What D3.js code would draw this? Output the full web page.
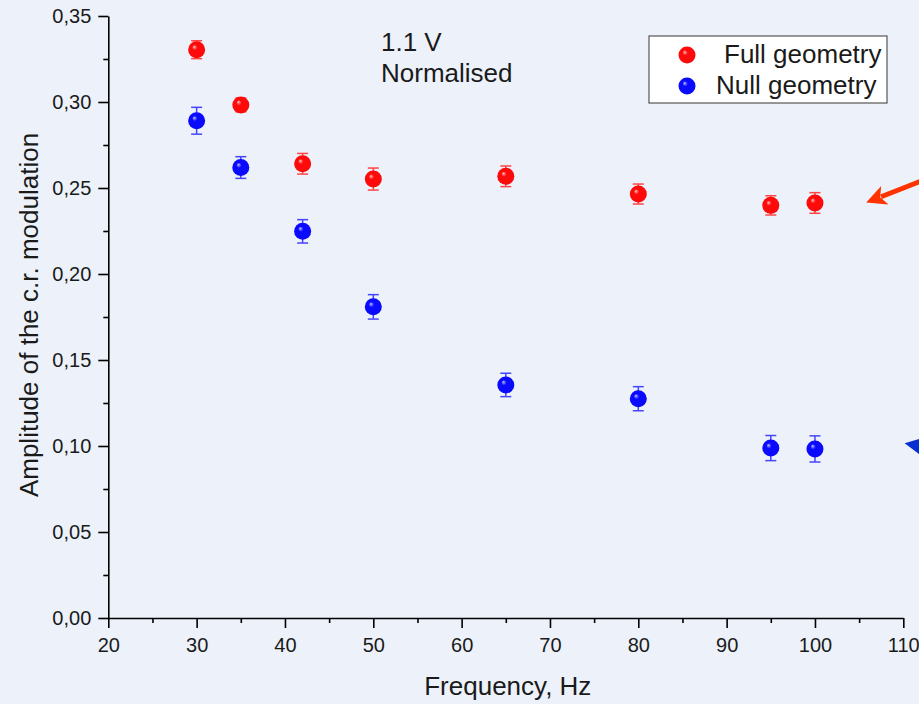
<!DOCTYPE html>
<html>
<head>
<meta charset="utf-8">
<script src="https://d3js.org/d3.v7.min.js"></script>
<style>
    body { margin: 0; background: #edf2fa; }
    svg { display: block; }
    text { font-family: "Liberation Sans", Arial, sans-serif; fill: #1a1a1a; }
    .axis path, .axis line { stroke: #000; stroke-width: 1.6px; }
    .axis text { font-size: 20px; fill: #1a1a1a; }
</style>
</head>
<body>
<svg id="chart" width="919" height="704"></svg>
<script>
    // data
    const freqs = [30, 35, 42, 50, 65, 80, 95, 100];
    const fullAmp = [0.3304, 0.2983, 0.2641, 0.2552, 0.2568, 0.2465, 0.2399, 0.2413];
    const fullErr = [0.0052, 0.0040, 0.0060, 0.0064, 0.0060, 0.0058, 0.0056, 0.0060];
    const nullAmp = [0.2891, 0.2619, 0.2248, 0.1809, 0.1355, 0.1275, 0.0988, 0.0983];
    const nullErr = [0.0078, 0.0063, 0.0068, 0.0071, 0.0068, 0.0070, 0.0073, 0.0076];

    const xTicks = [20, 30, 40, 50, 60, 70, 80, 90, 100, 110];
    const xMinor = [25, 35, 45, 55, 65, 75, 85, 95, 105];
    const yTicks = [0, 0.05, 0.10, 0.15, 0.20, 0.25, 0.30, 0.35];
    const yMinor = [0.025, 0.075, 0.125, 0.175, 0.225, 0.275, 0.325];

    const seriesNames = ['Full geometry', 'Null geometry'];
    const annotLines = ['1.1 V', 'Normalised'];
    // annotation arrows in data units: [from, to]
    const arrows = [
        { from: [112.5, 0.255], to: [105.8, 0.2415], color: '#ff3300' },
        { from: [113.5, 0.0985], to: [110.15, 0.1016], color: '#0a2fd0' }
    ];

    const svg = d3.select('#chart');
    const x = d3.scaleLinear().domain([20, 110]).range([108.3, 903.3]);
    const y = d3.scaleLinear().domain([0, 0.35]).range([618, 16]);

    const locale = d3.formatLocale({ decimal: ',', thousands: '.', grouping: [3], currency: ['', ''] });
    const yFmt = locale.format('.2f');

    // gradients for the shiny balls
    const defs = svg.append('defs');
    function ballGradient(id, light, mid, dark) {
        const g = defs.append('radialGradient').attr('id', id)
            .attr('cx', '50%').attr('cy', '50%').attr('r', '55%')
            .attr('fx', '35%').attr('fy', '32%');
        g.append('stop').attr('offset', '0%').attr('stop-color', light);
        g.append('stop').attr('offset', '28%').attr('stop-color', mid);
        g.append('stop').attr('offset', '85%').attr('stop-color', mid);
        g.append('stop').attr('offset', '100%').attr('stop-color', dark);
    }
    ballGradient('ballRed', '#ffc4c4', '#ff0a0a', '#d00000');
    ballGradient('ballBlue', '#c4c4ff', '#0a0aff', '#0000c0');

    // axes
    svg.append('g').attr('class', 'axis')
        .attr('transform', `translate(0,${y(0)})`)
        .call(d3.axisBottom(x).tickValues(xTicks).tickSize(10).tickPadding(5).tickSizeOuter(0))
        .call(g => g.selectAll('text').attr('dy', '0.95em'));
    svg.append('g').attr('class', 'axis')
        .attr('transform', `translate(0,${y(0)})`)
        .call(d3.axisBottom(x).tickValues(xMinor).tickSize(5).tickFormat('').tickSizeOuter(0))
        .call(g => g.select('.domain').remove());

    svg.append('g').attr('class', 'axis')
        .attr('transform', `translate(${x(20)},0)`)
        .call(d3.axisLeft(y).tickValues(yTicks).tickFormat(yFmt).tickSize(10).tickPadding(7).tickSizeOuter(0));
    svg.append('g').attr('class', 'axis')
        .attr('transform', `translate(${x(20)},0)`)
        .call(d3.axisLeft(y).tickValues(yMinor).tickSize(5).tickFormat('').tickSizeOuter(0))
        .call(g => g.select('.domain').remove());

    // axis titles
    svg.append('text')
        .attr('x', (x(20) + x(110)) / 2 + 2).attr('y', 695)
        .attr('text-anchor', 'middle').style('font-size', '26px')
        .text('Frequency, Hz');
    svg.append('text')
        .attr('transform', `translate(38,${(y(0) + y(0.35)) / 2 - 2}) rotate(-90)`)
        .attr('text-anchor', 'middle').style('font-size', '26px')
        .text('Amplitude of the c.r. modulation');

    // series
    const series = [
        { amp: fullAmp, err: fullErr, fill: 'url(#ballRed)', bar: '#ff4545' },
        { amp: nullAmp, err: nullErr, fill: 'url(#ballBlue)', bar: '#4545ff' }
    ];
    const capW = 5.5, r = 8.5;
    series.forEach(s => {
        const pts = freqs.map((f, i) => ({ f, v: s.amp[i], e: s.err[i] }));
        const g = svg.append('g');
        const eb = g.selectAll('g.eb').data(pts).join('g').attr('class', 'eb')
            .attr('stroke', s.bar).attr('stroke-width', 1.5);
        eb.append('line')
            .attr('x1', d => x(d.f)).attr('x2', d => x(d.f))
            .attr('y1', d => y(d.v - d.e)).attr('y2', d => y(d.v + d.e));
        eb.append('line')
            .attr('x1', d => x(d.f) - capW).attr('x2', d => x(d.f) + capW)
            .attr('y1', d => y(d.v + d.e)).attr('y2', d => y(d.v + d.e));
        eb.append('line')
            .attr('x1', d => x(d.f) - capW).attr('x2', d => x(d.f) + capW)
            .attr('y1', d => y(d.v - d.e)).attr('y2', d => y(d.v - d.e));
        g.selectAll('circle').data(pts).join('circle')
            .attr('cx', d => x(d.f)).attr('cy', d => y(d.v))
            .attr('r', r).attr('fill', s.fill);
    });

    // annotation text
    svg.append('g').selectAll('text').data(annotLines).join('text')
        .attr('x', 381).attr('y', (d, i) => 51 + i * 31)
        .style('font-size', '26px')
        .text(d => d);

    // legend
    const legend = svg.append('g').attr('transform', 'translate(649,36)');
    legend.append('rect')
        .attr('width', 238).attr('height', 67)
        .attr('fill', '#fff').attr('stroke', '#555').attr('stroke-width', 1.2);
    const li = legend.selectAll('g.item').data(seriesNames).join('g').attr('class', 'item')
        .attr('transform', (d, i) => `translate(0,${19 + i * 31})`);
    li.append('circle').attr('cx', 38).attr('cy', 0).attr('r', r)
        .attr('fill', (d, i) => series[i].fill);
    li.append('text').attr('x', (d, i) => i === 0 ? 75 : 67).attr('y', 8)
        .style('font-size', '26px').text(d => d);

    // arrows
    arrows.forEach(a => {
        const x1 = x(a.from[0]), y1 = y(a.from[1]);
        const x2 = x(a.to[0]), y2 = y(a.to[1]);
        const ang = Math.atan2(y2 - y1, x2 - x1);
        const len = 20, half = 10;
        const bx = x2 - len * Math.cos(ang), by = y2 - len * Math.sin(ang);
        svg.append('line')
            .attr('x1', x1).attr('y1', y1).attr('x2', bx + 4 * Math.cos(ang)).attr('y2', by + 4 * Math.sin(ang))
            .attr('stroke', a.color).attr('stroke-width', 5);
        const px = -Math.sin(ang), py = Math.cos(ang);
        svg.append('path')
            .attr('d', `M${x2},${y2}L${bx + px * half},${by + py * half}L${bx + 5 * Math.cos(ang)},${by + 5 * Math.sin(ang)}L${bx - px * half},${by - py * half}Z`)
            .attr('fill', a.color);
    });
</script>
</body>
</html>
